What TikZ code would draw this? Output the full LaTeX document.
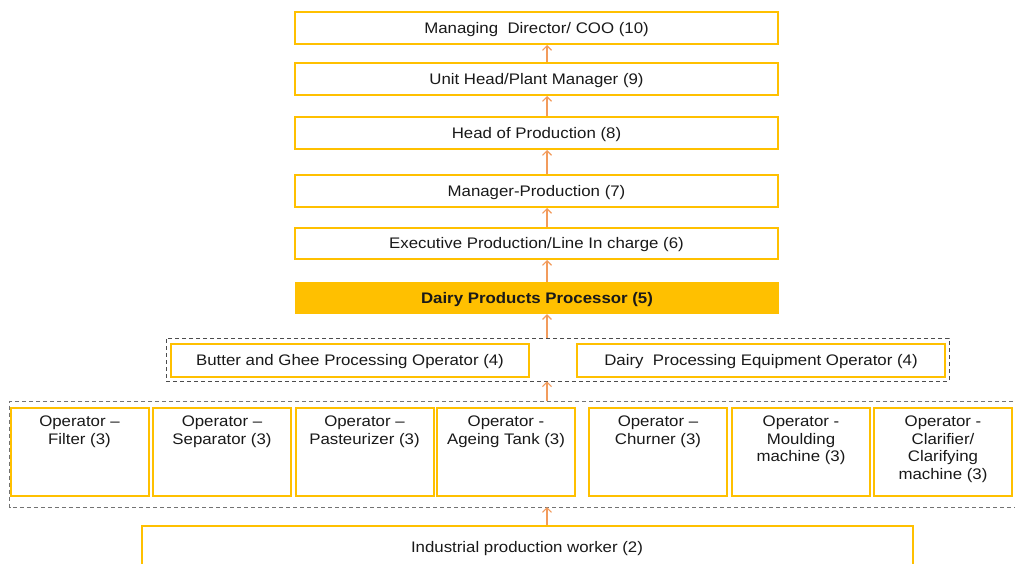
\documentclass[tikz,border=0pt]{standalone}
\usepackage{fontspec}
\setmainfont[FakeStretch=1.1]{Liberation Sans}
\usetikzlibrary{arrows.meta}
\definecolor{gold}{HTML}{FFC000}
\definecolor{arrc}{HTML}{F29B5C}
\begin{document}
\begin{tikzpicture}[x=1pt,y=-1pt,
  every node/.style={font=\fontsize{15.3}{17.5}\selectfont, text=black!90},
  centred/.style={text height=12.5pt, text depth=2.5pt},
  rolebox/.style={centred, draw=gold, line width=2pt, minimum width=483pt, minimum height=32pt, inner sep=0pt, fill=white},
  keybox/.style={centred, fill=gold, minimum width=484pt, minimum height=32pt, inner sep=0pt, font=\fontsize{15.3}{17.5}\selectfont\bfseries},
  midbox/.style={centred, draw=gold, line width=2pt, minimum height=33pt, inner sep=0pt, fill=white},
  opbox/.style={draw=gold, line width=2pt, minimum width=138pt, minimum height=88pt, inner sep=0pt, fill=white},
  optext/.style={anchor=north, align=center, inner sep=0pt},
  grpframe/.style={draw=#1, line width=0.8pt, dash pattern=on 4pt off 3pt},
  arr/.style={draw=arrc, line width=1.1pt, -{Straight Barb[length=4.5pt,width=9pt]}}
]
\useasboundingbox (0,0) rectangle (1015,563);
\fill[white] (0,0) rectangle (1015,563);
\coordinate (ax) at (547,0);

% top chain
\node[rolebox] (b10) at (536.5,28) {Managing\ \ Director/ COO (10)};
\node[rolebox] (b9) at (536.5,79) {Unit Head/Plant Manager (9)};
\node[rolebox] (b8) at (536.5,133) {Head of Production (8)};
\node[rolebox] (b7) at (536.5,191) {Manager-Production (7)};
\node[rolebox, minimum height=31pt] (b6) at (536.5,243.5) {Executive Production/Line In charge (6)};
\node[keybox] (b5) at (537,298) {Dairy Products Processor (5)};

% level 4 group
\node[grpframe=black!70, minimum width=783pt, minimum height=43pt, inner sep=0pt] (grp4) at (557.5,359.5) {};
\node[midbox, minimum width=358pt] (bg) at (350,360.5) {Butter and Ghee Processing Operator (4)};
\node[midbox, minimum width=368pt] (de) at (761,360.5) {Dairy\ \ Processing Equipment Operator (4)};

% level 3 group (clipped on the right)
\coordinate (g3tl) at (9.5,401);
\coordinate (g3bl) at (9.5,507);
\draw[grpframe=black!55] (1020,401) -- (g3tl) -- (g3bl) -- (1020,507);

\node[opbox] (op1) at (79.5,452) {};
\node[opbox] (op2) at (222,452) {};
\node[opbox] (op3) at (364.5,452) {};
\node[opbox] (op4) at (506,452) {};
\node[opbox] (op5) at (658,452) {};
\node[opbox] (op6) at (801,452) {};
\node[opbox] (op7) at (943,452) {};
\node[optext] (t1) at ([yshift=-9pt]op1.north) {Operator --\\Filter (3)};
\node[optext] (t2) at ([yshift=-9pt]op2.north) {Operator --\\Separator (3)};
\node[optext] (t3) at ([yshift=-9pt]op3.north) {Operator --\\Pasteurizer (3)};
\node[optext] (t4) at ([yshift=-9pt]op4.north) {Operator -\\Ageing Tank (3)};
\node[optext] (t5) at ([yshift=-9pt]op5.north) {Operator --\\Churner (3)};
\node[optext] (t6) at ([yshift=-9pt]op6.north) {Operator -\\Moulding\\machine (3)};
\node[optext] (t7) at ([yshift=-9pt]op7.north) {Operator -\\Clarifier/\\Clarifying\\machine (3)};

% level 2
\node[centred, draw=gold, line width=2pt, minimum width=771pt, minimum height=42pt, inner sep=0pt] (b2) at (527,547) {Industrial production worker (2)};

% arrows
\draw[arr] (b9.north -| ax) -- (b10.south -| ax);
\draw[arr] (b8.north -| ax) -- (b9.south -| ax);
\draw[arr] (b7.north -| ax) -- (b8.south -| ax);
\draw[arr] (b6.north -| ax) -- (b7.south -| ax);
\draw[arr] (b5.north -| ax) -- (b6.south -| ax);
\draw[arr] (grp4.north -| ax) -- (b5.south -| ax);
\draw[arr] (ax |- g3tl) -- (grp4.south -| ax);
\draw[arr] (b2.north -| ax) -- (ax |- g3bl);
\end{tikzpicture}
\end{document}
